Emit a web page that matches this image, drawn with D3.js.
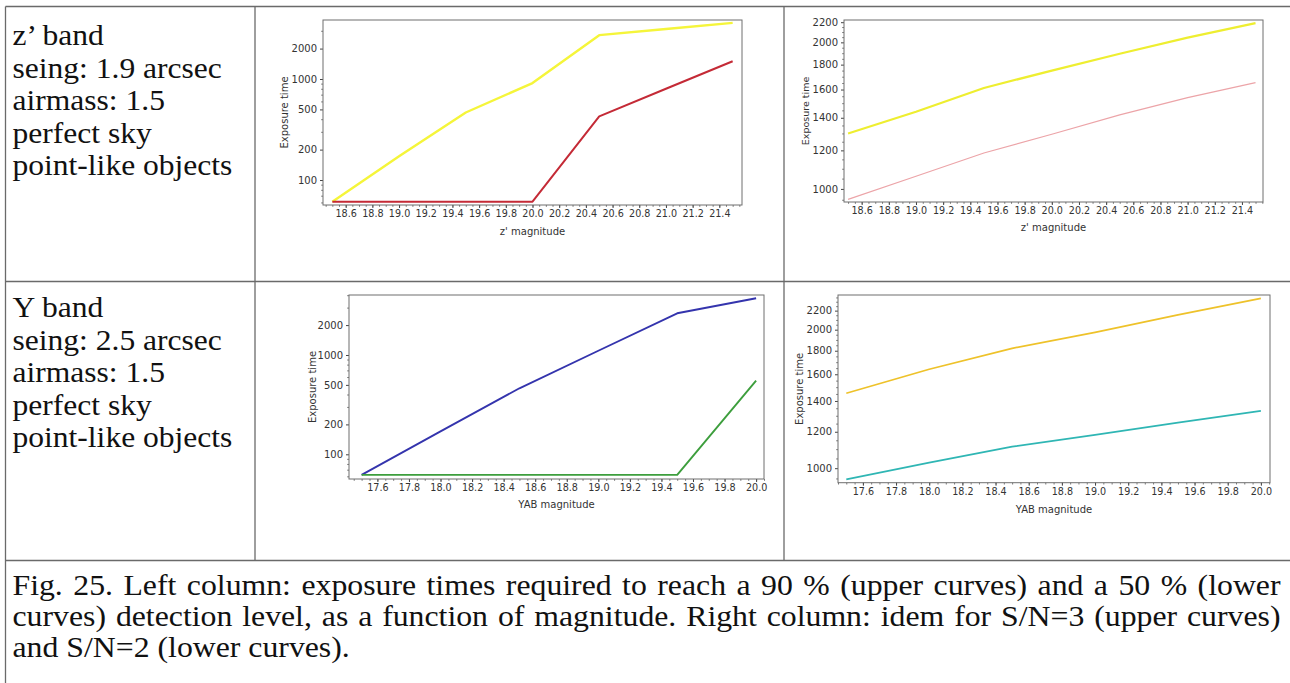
<html>
<head>
<script src="https://cdn.jsdelivr.net/npm/d3@7"></script>
<style>
  body { margin: 0; background: #ffffff; }
  .serif { font-family: "Liberation Serif", "Times New Roman", serif; fill: #111; }
  .tick text { font-family: "DejaVu Sans", sans-serif; fill: #333; }
  .axisLabel { font-family: "DejaVu Sans", sans-serif; fill: #333; }
</style>
</head>
<body>
<svg id="Figure"></svg>
<script>
// z' band: exposure time for 90 % / 50 % detection level
let zMagnitude = [18.5, 19.0, 19.5, 20.0, 20.5, 21.0, 21.5]
let zDetect90 = [61, 172, 466, 912, 2716, 3130, 3597]
let zDetect50 = [61, 61, 61, 61, 426, 800, 1497]
// z' band: S/N = 3 and S/N = 2
let zSnr3 = [1300, 1440, 1612, 1750, 1895, 2045, 2190]
let zSnr2 = [952, 1062, 1185, 1295, 1419, 1540, 1653]
// Y band
let yMagnitude = [17.5, 18.0, 18.5, 19.0, 19.5, 20.0]
let yDetect90 = [62, 170, 462, 1103, 2630, 3724]
let yDetect50 = [62, 62, 62, 62, 62, 551]
let ySnr3 = [1455, 1641, 1822, 1974, 2153, 2340]
let ySnr2 = [946, 1028, 1114, 1181, 1256, 1332]

// tick labels
let zTicks = [18.6, 18.8, 19.0, 19.2, 19.4, 19.6, 19.8, 20.0, 20.2, 20.4, 20.6, 20.8, 21.0, 21.2, 21.4]
let yTicks = [17.6, 17.8, 18.0, 18.2, 18.4, 18.6, 18.8, 19.0, 19.2, 19.4, 19.6, 19.8, 20.0]
let detectTicks = [100, 200, 500, 1000, 2000]
let snrTicks = [1000, 1200, 1400, 1600, 1800, 2000, 2200]

// table text
let rowText1 = ["z’ band", "seing: 1.9 arcsec", "airmass: 1.5", "perfect sky", "point-like objects"]
let rowText2 = ["Y band", "seing: 2.5 arcsec", "airmass: 1.5", "perfect sky", "point-like objects"]
let caption = [
  "Fig. 25. Left column: exposure times required to reach a 90 % (upper curves) and a 50 % (lower",
  "curves) detection level, as a function of magnitude. Right column: idem for S/N=3 (upper curves)",
  "and S/N=2 (lower curves)."
]

let width = 1290
let height = 683
let svg = d3.select("#Figure").attr("width", width).attr("height", height)
svg.append("rect").attr("width", width).attr("height", height).attr("fill", "#ffffff")

function getPanels() {
  return [
    {
      box: { left: 323, right: 742, top: 20, bottom: 205 },
      xDomain: [18.43, 21.57], yDomain: [56.6, 3837],
      mag: zMagnitude, xTicks: zTicks, yTicks: detectTicks,
      yMinor: [60, 70, 80, 90, 300, 400, 600, 700, 800, 900, 3000],
      xLabel: "z' magnitude", xLabelY: 234.5, yLabelX: 284.5, yLabelSize: 10,
      series: [
        { values: zDetect90, color: "#f5f53a", width: 2.4 },
        { values: zDetect50, color: "#c42a36", width: 2 }
      ]
    },
    {
      box: { left: 844, right: 1263, top: 20, bottom: 202 },
      xDomain: [18.47, 21.555], yDomain: [940, 2223],
      mag: zMagnitude, xTicks: zTicks, yTicks: snrTicks,
      yMinor: d3.range(950, 2250, 50),
      xLabel: "z' magnitude", xLabelY: 230.5, yLabelX: 806, yLabelSize: 9.5,
      series: [
        { values: zSnr3, color: "#eeee30", width: 2.2 },
        { values: zSnr2, color: "#eca4a8", width: 1.2 }
      ]
    },
    {
      box: { left: 349, right: 764, top: 295, bottom: 479 },
      xDomain: [17.42, 20.05], yDomain: [56.4, 4018],
      mag: yMagnitude, xTicks: yTicks, yTicks: detectTicks,
      yMinor: [60, 70, 80, 90, 300, 400, 600, 700, 800, 900, 3000, 4000],
      xLabel: "YAB magnitude", xLabelY: 507.5, yLabelX: 312, yLabelSize: 10,
      series: [
        { values: yDetect90, color: "#3434ad", width: 1.9 },
        { values: yDetect50, color: "#3d9e3d", width: 1.9 }
      ]
    },
    {
      box: { left: 838, right: 1270, top: 295, bottom: 482.7 },
      xDomain: [17.45, 20.055], yDomain: [930, 2379],
      mag: yMagnitude, xTicks: yTicks, yTicks: snrTicks,
      yMinor: d3.range(950, 2400, 50),
      xLabel: "YAB magnitude", xLabelY: 512.5, yLabelX: 799, yLabelSize: 10,
      series: [
        { values: ySnr3, color: "#eec22a", width: 1.7 },
        { values: ySnr2, color: "#2fb6b4", width: 1.8 }
      ]
    }
  ]
}

function drawPanel(p) {
  let { box } = p
  let xScale = d3.scaleLinear().domain(p.xDomain).range([box.left, box.right])
  let yScale = d3.scaleLog().domain(p.yDomain).range([box.bottom, box.top])

  // minor ticks first, below the frame
  let xMinor = d3.range(Math.ceil(p.xDomain[0] / 0.05) * 0.05, p.xDomain[1], 0.05)
  svg.append("g")
    .attr("transform", `translate(0,${box.bottom})`)
    .call(d3.axisBottom(xScale).tickValues(xMinor).tickSize(1.8).tickFormat(""))
    .call(g => g.select(".domain").remove())
    .selectAll("line").attr("stroke", "#555").attr("stroke-width", 0.8)

  let yMinor = p.yMinor.filter(v => v > p.yDomain[0] && v < p.yDomain[1] && p.yTicks.indexOf(v) < 0)
  svg.append("g")
    .attr("transform", `translate(${box.left},0)`)
    .call(d3.axisLeft(yScale).tickValues(yMinor).tickSize(1.8).tickFormat(""))
    .call(g => g.select(".domain").remove())
    .selectAll("line").attr("stroke", "#555").attr("stroke-width", 0.8)

  // major axes
  let axisX = d3.axisBottom(xScale)
    .tickValues(p.xTicks)
    .tickSize(3)
    .tickPadding(2)
    .tickFormat(d3.format(".1f"))
  svg.append("g")
    .attr("transform", `translate(0,${box.bottom})`)
    .call(axisX)
    .call(g => g.select(".domain").remove())
    .call(g => g.selectAll("line").attr("stroke", "#444"))
    .call(g => g.selectAll("text").attr("font-size", 9.6))

  let axisY = d3.axisLeft(yScale)
    .tickValues(p.yTicks)
    .tickSize(3)
    .tickPadding(3)
    .tickFormat(d3.format("d"))
  svg.append("g")
    .attr("transform", `translate(${box.left},0)`)
    .call(axisY)
    .call(g => g.select(".domain").remove())
    .call(g => g.selectAll("line").attr("stroke", "#444"))
    .call(g => g.selectAll("text").attr("font-size", 10))

  // curves
  let line = d3.line()
    .x((d, i) => xScale(p.mag[i]))
    .y(d => yScale(d))
  p.series.forEach(s => {
    svg.append("path")
      .attr("d", line(s.values))
      .attr("fill", "none")
      .attr("stroke", s.color)
      .attr("stroke-width", s.width)
      .attr("stroke-linejoin", "round")
  })

  // frame
  svg.append("rect")
    .attr("x", box.left).attr("y", box.top)
    .attr("width", box.right - box.left).attr("height", box.bottom - box.top)
    .attr("fill", "none")
    .attr("stroke", "#6f6f6f")
    .attr("stroke-width", 1)

  svg.append("text")
    .attr("class", "axisLabel")
    .attr("x", (box.left + box.right) / 2)
    .attr("y", p.xLabelY)
    .attr("text-anchor", "middle")
    .attr("font-size", 10)
    .text(p.xLabel)

  svg.append("text")
    .attr("class", "axisLabel")
    .attr("transform", `translate(${p.yLabelX},${(box.top + box.bottom) / 2}) rotate(-90)`)
    .attr("text-anchor", "middle")
    .attr("dy", "0.35em")
    .attr("font-size", p.yLabelSize)
    .text("Exposure time")
}

function drawTable() {
  let grid = svg.append("g").attr("stroke", "#6a6a6a").attr("stroke-width", 1.3)
  grid.append("line").attr("x1", 5.5).attr("x2", width).attr("y1", 6.5).attr("y2", 6.5)
  grid.append("line").attr("x1", 5.5).attr("x2", width).attr("y1", 281.5).attr("y2", 281.5)
  grid.append("line").attr("x1", 5.5).attr("x2", width).attr("y1", 560.5).attr("y2", 560.5)
  grid.append("line").attr("x1", 5.5).attr("x2", 5.5).attr("y1", 6.5).attr("y2", height)
  grid.append("line").attr("x1", 255).attr("x2", 255).attr("y1", 6.5).attr("y2", 560.5)
  grid.append("line").attr("x1", 784).attr("x2", 784).attr("y1", 6.5).attr("y2", 560.5)

  let rows = [{ lines: rowText1, y: 45 }, { lines: rowText2, y: 317 }]
  rows.forEach(r => {
    r.lines.forEach((t, i) => {
      svg.append("text")
        .attr("class", "serif")
        .attr("font-size", 29.5)
        .attr("transform", `translate(12.5,${r.y + i * 32.5}) scale(1.07,1)`)
        .text(t)
    })
  })
}

function drawCaption() {
  let sx = 1.115
  let target = 1268
  caption.forEach((line, i) => {
    let t = svg.append("text")
      .attr("class", "serif")
      .attr("font-size", 28.5)
      .attr("transform", `translate(12.5,${595 + i * 31}) scale(${sx},1)`)
      .text(line)
    if (i < caption.length - 1) {
      let natural = t.node().getComputedTextLength()
      let spaces = line.split(" ").length - 1
      let extra = (target / sx - natural) / spaces
      t.attr("word-spacing", extra)
    }
  })
}

drawTable()
getPanels().forEach(drawPanel)
drawCaption()
</script>
</body>
</html>
